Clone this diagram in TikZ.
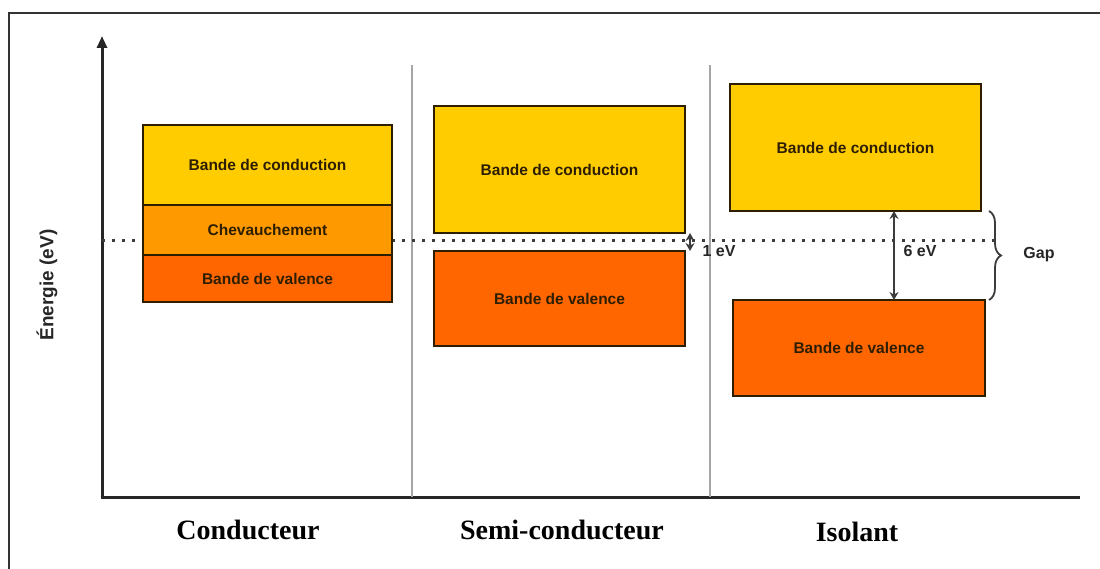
\documentclass[tikz,border=0pt]{standalone}
\usepackage{fontspec}
\setmainfont{Liberation Sans}
\newfontfamily\timesfont{Liberation Serif}
\usetikzlibrary{arrows.meta, positioning, decorations.pathreplacing, calc}
\definecolor{bandyellow}{RGB}{255, 204, 0}
\definecolor{bandorange}{RGB}{255, 153, 0}
\definecolor{bandred}{RGB}{255, 102, 0}
\definecolor{bandtext}{RGB}{45, 30, 0}
\definecolor{darkgray}{RGB}{60, 60, 60}
\definecolor{dividergray}{RGB}{165, 165, 165}

\begin{document}
\begin{tikzpicture}[
	x=1pt, y=-1pt,
	% band boxes
	condband/.style={
			rectangle,
			minimum width=251pt,
			minimum height=127pt,
			inner sep=0pt,
			outer sep=0pt,
			fill=bandyellow,
			draw=bandtext,
			line width=1.6pt,
			font=\fontsize{15.5}{17}\selectfont\bfseries,
			text=bandtext
		},
	overlapband/.style={
			condband,
			fill=bandorange
		},
	valband/.style={
			condband,
			minimum height=95pt,
			fill=bandred
		},
	% axes and lines
	axis/.style={
			line width=3pt,
			color=black!85
		},
	divider/.style={
			line width=1.5pt,
			color=dividergray
		},
	dottedline/.style={
			line width=2.6pt,
			color=darkgray,
			dash pattern=on 3pt off 7pt
		},
	gaparrow/.style={
	{Stealth[length=8pt, width=9pt]}-{Stealth[length=8pt, width=9pt]},
	line width=1.8pt,
	color=darkgray
	},
	gapbrace/.style={
			decorate,
			decoration={brace, amplitude=12pt},
			line width=1.8pt,
			color=darkgray
		},
	smalllabel/.style={
			font=\fontsize{16}{18}\selectfont\bfseries,
			text=black!85
		},
	typelabel/.style={
			font=\timesfont\fontsize{28}{30}\selectfont\bfseries,
			text=black
		}
	]

	\clip (0,0) rectangle (1100,569);
	\fill[white] (0,0) rectangle (1100,569);
	\draw[line width=1.5pt, black!80] (9,13) rectangle (1130,600);

	% axes
	\coordinate (origin) at (102,497);
	\coordinate (ytop) at (102,36);
	\coordinate (xend) at (1080,497);
	\draw[axis, -{Triangle[length=12pt, width=10pt]}] (origin) -- (ytop);
	\draw[axis] ([xshift=-1.5pt]origin) -- (xend);
	\node[smalllabel, font=\fontsize{19}{21}\selectfont\bfseries, rotate=90] (energie) at (47,285) {Énergie (eV)};

	% column separators
	\coordinate (sep1) at (412,65);
	\coordinate (sep2) at (710,65);
	\draw[divider] (sep1) -- (sep1 |- origin);
	\draw[divider] (sep2) -- (sep2 |- origin);

	% Fermi level (behind the bands)
	\coordinate (fermi) at (998,240.5);
	\draw[dottedline] (origin |- fermi) -- (fermi);

	% Conducteur
	\node[condband, minimum width=249pt, minimum height=80pt] (ccond) at (267.5,165) {Bande de conduction};
	\node[overlapband, minimum width=249pt, minimum height=50pt, below=0pt of ccond] (cover) {Chevauchement};
	\node[valband, minimum width=249pt, minimum height=47pt, below=0pt of cover] (cval) {Bande de valence};

	% Semi-conducteur
	\node[condband] (scond) at (559.5,169.5) {Bande de conduction};
	\node[valband, below=18pt of scond] (sval) {Bande de valence};

	% Isolant
	\node[condband] (icond) at (855.5,147.5) {Bande de conduction};
	\node[valband, minimum width=252pt, minimum height=96pt] (ival) at (859,348) {Bande de valence};

	% gaps
	\draw[gaparrow] ([xshift=5pt]scond.south east) -- ([xshift=5pt]scond.south east |- sval.north);
	\node[smalllabel] (gap1) at (719,251) {1 eV};
	\coordinate (g6) at (894,0);
	\draw[gaparrow] (icond.south -| g6) -- (ival.north -| g6);
	\node[smalllabel] (gap6) at (920,251) {6 eV};
	\coordinate (bracetop) at (989,211);
	\coordinate (bracebot) at (989,300);
	\draw[gapbrace] (bracetop) -- (bracebot);
	\node[smalllabel] (gaplabel) at (1039,255) {Gap};

	% material labels
	\node[typelabel] (conducteur) at (248,530) {Conducteur};
	\node[typelabel] (semi) at (562,530) {Semi-conducteur};
	\node[typelabel] (isolant) at (857,532) {Isolant};

\end{tikzpicture}
\end{document}
